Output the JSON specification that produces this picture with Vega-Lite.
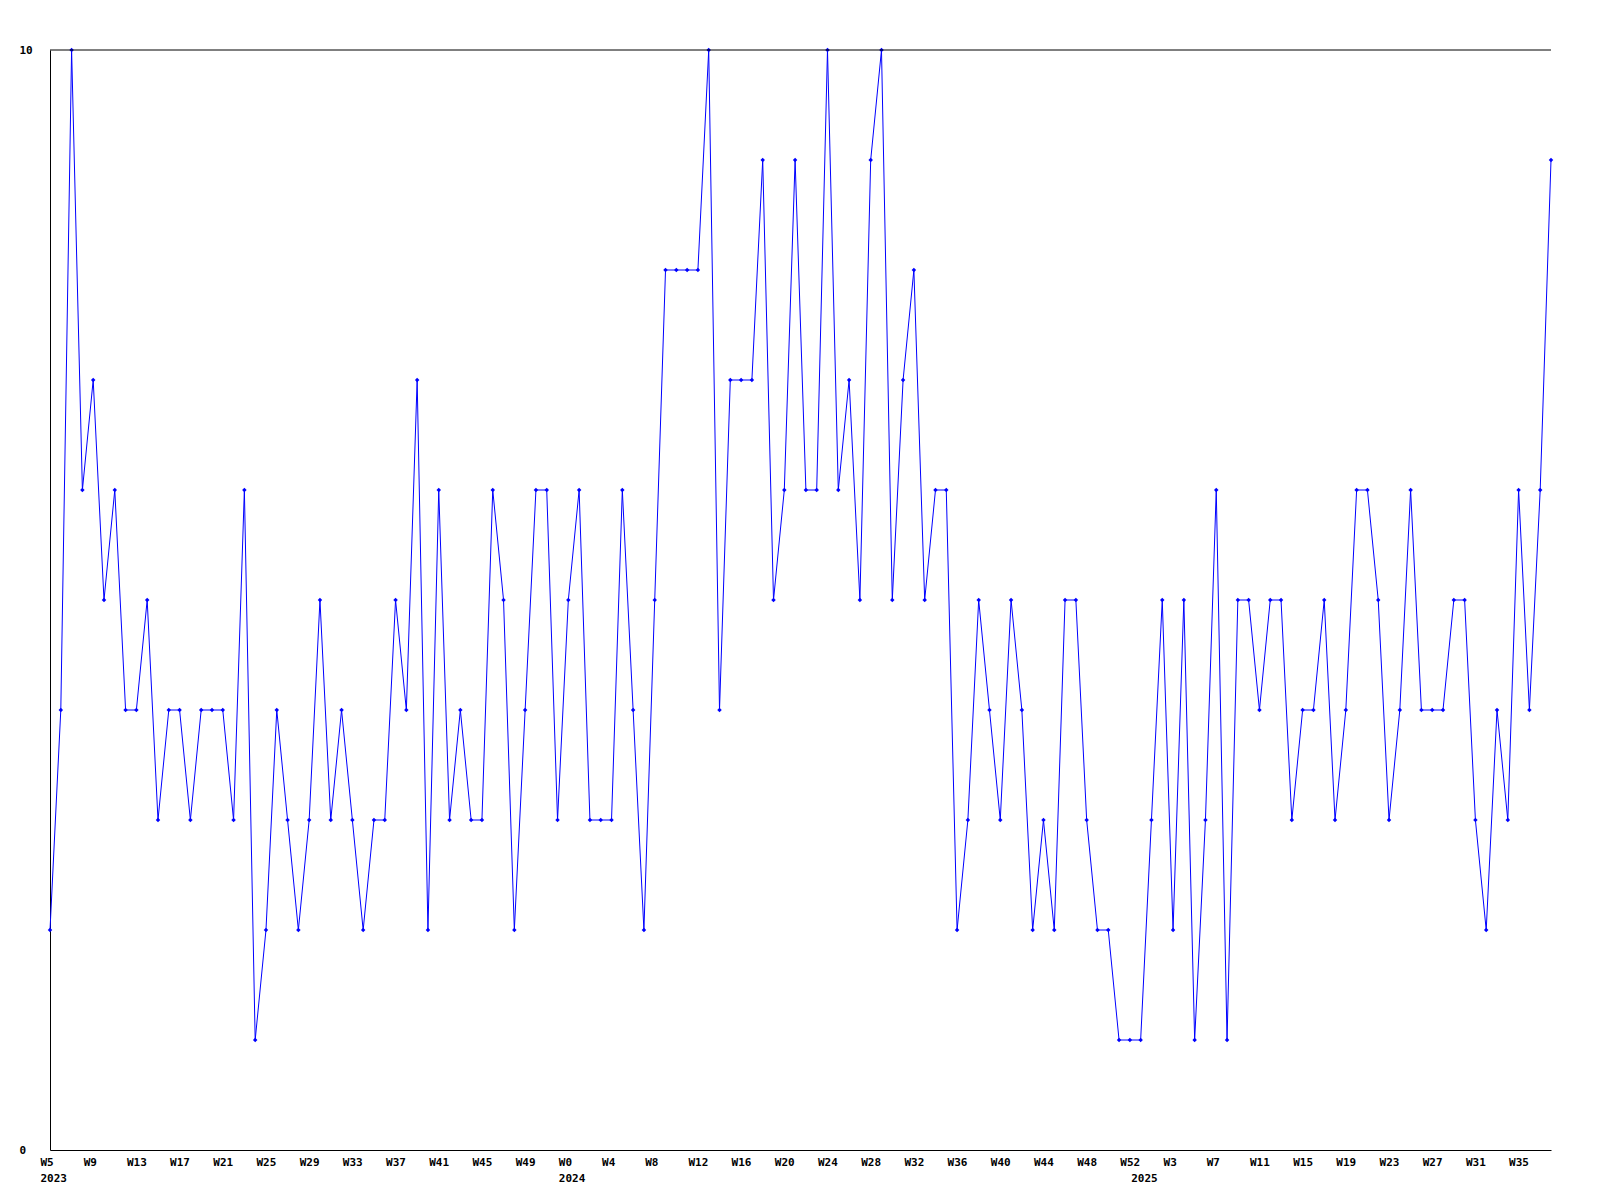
{
  "$schema": "https://vega.github.io/schema/vega-lite/v6.json",
  "autosize": "none",
  "width": 1501,
  "height": 1100,
  "padding": {"left": 50, "top": 50, "right": 49, "bottom": 50},
  "background": "white",
  "config": {
    "view": {"stroke": null},
    "axis": {
      "labelFont": "DejaVu Sans Mono",
      "labelFontWeight": "bold",
      "labelFontSize": 11,
      "labelColor": "black",
      "domainColor": "black",
      "domainWidth": 1,
      "grid": false,
      "ticks": false,
      "tickSize": 0
    }
  },
  "data": {"values": [
    {"wk": "2023-W05", "v": 2}, {"wk": "2023-W06", "v": 4}, {"wk": "2023-W07", "v": 10}, {"wk": "2023-W08", "v": 6},
    {"wk": "2023-W09", "v": 7}, {"wk": "2023-W10", "v": 5}, {"wk": "2023-W11", "v": 6}, {"wk": "2023-W12", "v": 4},
    {"wk": "2023-W13", "v": 4}, {"wk": "2023-W14", "v": 5}, {"wk": "2023-W15", "v": 3}, {"wk": "2023-W16", "v": 4},
    {"wk": "2023-W17", "v": 4}, {"wk": "2023-W18", "v": 3}, {"wk": "2023-W19", "v": 4}, {"wk": "2023-W20", "v": 4},
    {"wk": "2023-W21", "v": 4}, {"wk": "2023-W22", "v": 3}, {"wk": "2023-W23", "v": 6}, {"wk": "2023-W24", "v": 1},
    {"wk": "2023-W25", "v": 2}, {"wk": "2023-W26", "v": 4}, {"wk": "2023-W27", "v": 3}, {"wk": "2023-W28", "v": 2},
    {"wk": "2023-W29", "v": 3}, {"wk": "2023-W30", "v": 5}, {"wk": "2023-W31", "v": 3}, {"wk": "2023-W32", "v": 4},
    {"wk": "2023-W33", "v": 3}, {"wk": "2023-W34", "v": 2}, {"wk": "2023-W35", "v": 3}, {"wk": "2023-W36", "v": 3},
    {"wk": "2023-W37", "v": 5}, {"wk": "2023-W38", "v": 4}, {"wk": "2023-W39", "v": 7}, {"wk": "2023-W40", "v": 2},
    {"wk": "2023-W41", "v": 6}, {"wk": "2023-W42", "v": 3}, {"wk": "2023-W43", "v": 4}, {"wk": "2023-W44", "v": 3},
    {"wk": "2023-W45", "v": 3}, {"wk": "2023-W46", "v": 6}, {"wk": "2023-W47", "v": 5}, {"wk": "2023-W48", "v": 2},
    {"wk": "2023-W49", "v": 4}, {"wk": "2023-W50", "v": 6}, {"wk": "2023-W51", "v": 6}, {"wk": "2023-W52", "v": 3},
    {"wk": "2024-W00", "v": 5}, {"wk": "2024-W01", "v": 6}, {"wk": "2024-W02", "v": 3}, {"wk": "2024-W03", "v": 3},
    {"wk": "2024-W04", "v": 3}, {"wk": "2024-W05", "v": 6}, {"wk": "2024-W06", "v": 4}, {"wk": "2024-W07", "v": 2},
    {"wk": "2024-W08", "v": 5}, {"wk": "2024-W09", "v": 8}, {"wk": "2024-W10", "v": 8}, {"wk": "2024-W11", "v": 8},
    {"wk": "2024-W12", "v": 8}, {"wk": "2024-W13", "v": 10}, {"wk": "2024-W14", "v": 4}, {"wk": "2024-W15", "v": 7},
    {"wk": "2024-W16", "v": 7}, {"wk": "2024-W17", "v": 7}, {"wk": "2024-W18", "v": 9}, {"wk": "2024-W19", "v": 5},
    {"wk": "2024-W20", "v": 6}, {"wk": "2024-W21", "v": 9}, {"wk": "2024-W22", "v": 6}, {"wk": "2024-W23", "v": 6},
    {"wk": "2024-W24", "v": 10}, {"wk": "2024-W25", "v": 6}, {"wk": "2024-W26", "v": 7}, {"wk": "2024-W27", "v": 5},
    {"wk": "2024-W28", "v": 9}, {"wk": "2024-W29", "v": 10}, {"wk": "2024-W30", "v": 5}, {"wk": "2024-W31", "v": 7},
    {"wk": "2024-W32", "v": 8}, {"wk": "2024-W33", "v": 5}, {"wk": "2024-W34", "v": 6}, {"wk": "2024-W35", "v": 6},
    {"wk": "2024-W36", "v": 2}, {"wk": "2024-W37", "v": 3}, {"wk": "2024-W38", "v": 5}, {"wk": "2024-W39", "v": 4},
    {"wk": "2024-W40", "v": 3}, {"wk": "2024-W41", "v": 5}, {"wk": "2024-W42", "v": 4}, {"wk": "2024-W43", "v": 2},
    {"wk": "2024-W44", "v": 3}, {"wk": "2024-W45", "v": 2}, {"wk": "2024-W46", "v": 5}, {"wk": "2024-W47", "v": 5},
    {"wk": "2024-W48", "v": 3}, {"wk": "2024-W49", "v": 2}, {"wk": "2024-W50", "v": 2}, {"wk": "2024-W51", "v": 1},
    {"wk": "2024-W52", "v": 1},
    {"wk": "2025-W00", "v": 1}, {"wk": "2025-W01", "v": 3}, {"wk": "2025-W02", "v": 5}, {"wk": "2025-W03", "v": 2},
    {"wk": "2025-W04", "v": 5}, {"wk": "2025-W05", "v": 1}, {"wk": "2025-W06", "v": 3}, {"wk": "2025-W07", "v": 6},
    {"wk": "2025-W08", "v": 1}, {"wk": "2025-W09", "v": 5}, {"wk": "2025-W10", "v": 5}, {"wk": "2025-W11", "v": 4},
    {"wk": "2025-W12", "v": 5}, {"wk": "2025-W13", "v": 5}, {"wk": "2025-W14", "v": 3}, {"wk": "2025-W15", "v": 4},
    {"wk": "2025-W16", "v": 4}, {"wk": "2025-W17", "v": 5}, {"wk": "2025-W18", "v": 3}, {"wk": "2025-W19", "v": 4},
    {"wk": "2025-W20", "v": 6}, {"wk": "2025-W21", "v": 6}, {"wk": "2025-W22", "v": 5}, {"wk": "2025-W23", "v": 3},
    {"wk": "2025-W24", "v": 4}, {"wk": "2025-W25", "v": 6}, {"wk": "2025-W26", "v": 4}, {"wk": "2025-W27", "v": 4},
    {"wk": "2025-W28", "v": 4}, {"wk": "2025-W29", "v": 5}, {"wk": "2025-W30", "v": 5}, {"wk": "2025-W31", "v": 3},
    {"wk": "2025-W32", "v": 2}, {"wk": "2025-W33", "v": 4}, {"wk": "2025-W34", "v": 3}, {"wk": "2025-W35", "v": 6},
    {"wk": "2025-W36", "v": 4}, {"wk": "2025-W37", "v": 6}, {"wk": "2025-W38", "v": 9}
  ]},
  "layer": [
    {
      "mark": {
        "type": "line",
        "color": "#0000ff",
        "strokeWidth": 1,
        "point": {"shape": "diamond", "size": 20, "color": "#0000ff", "filled": true}
      },
      "encoding": {
        "x": {
          "field": "wk",
          "type": "ordinal",
          "sort": null,
          "scale": {"type": "point", "padding": 0},
          "axis": {
            "title": null,
            "values": ["2023-W05", "2023-W09", "2023-W13", "2023-W17", "2023-W21", "2023-W25", "2023-W29", "2023-W33", "2023-W37", "2023-W41", "2023-W45", "2023-W49",
                       "2024-W00", "2024-W04", "2024-W08", "2024-W12", "2024-W16", "2024-W20", "2024-W24", "2024-W28", "2024-W32", "2024-W36", "2024-W40", "2024-W44", "2024-W48", "2024-W52",
                       "2025-W00", "2025-W03", "2025-W07", "2025-W11", "2025-W15", "2025-W19", "2025-W23", "2025-W27", "2025-W31", "2025-W35"],
            "labelExpr": "datum.value == '2025-W00' ? ['\u00a0', '2025'] : ((datum.value == '2023-W05' || datum.value == '2024-W00') ? ['W' + toNumber(substring(datum.value, 6)), substring(datum.value, 0, 4)] : 'W' + toNumber(substring(datum.value, 6)))",
            "labelAlign": "left",
            "labelOffset": -10,
            "labelPadding": 6,
            "labelLineHeight": 16,
            "labelOverlap": false,
            "labelBound": false,
            "labelFlush": false,
            "labelAngle": 0
          }
        },
        "y": {
          "field": "v",
          "type": "quantitative",
          "scale": {"domain": [0, 10], "nice": false, "zero": true},
          "axis": {
            "title": null,
            "values": [0, 10],
            "labelAlign": "left",
            "labelPadding": 31,
            "labelBaseline": "middle"
          }
        }
      }
    },
    {
      "data": {"values": [{"v": 10}]},
      "mark": {"type": "rule", "color": "black", "strokeWidth": 1},
      "encoding": {
        "y": {
          "field": "v",
          "type": "quantitative",
          "axis": {
            "title": null,
            "values": [0, 10],
            "labelAlign": "left",
            "labelPadding": 31,
            "labelBaseline": "middle"
          }
        }
      }
    }
  ]
}
